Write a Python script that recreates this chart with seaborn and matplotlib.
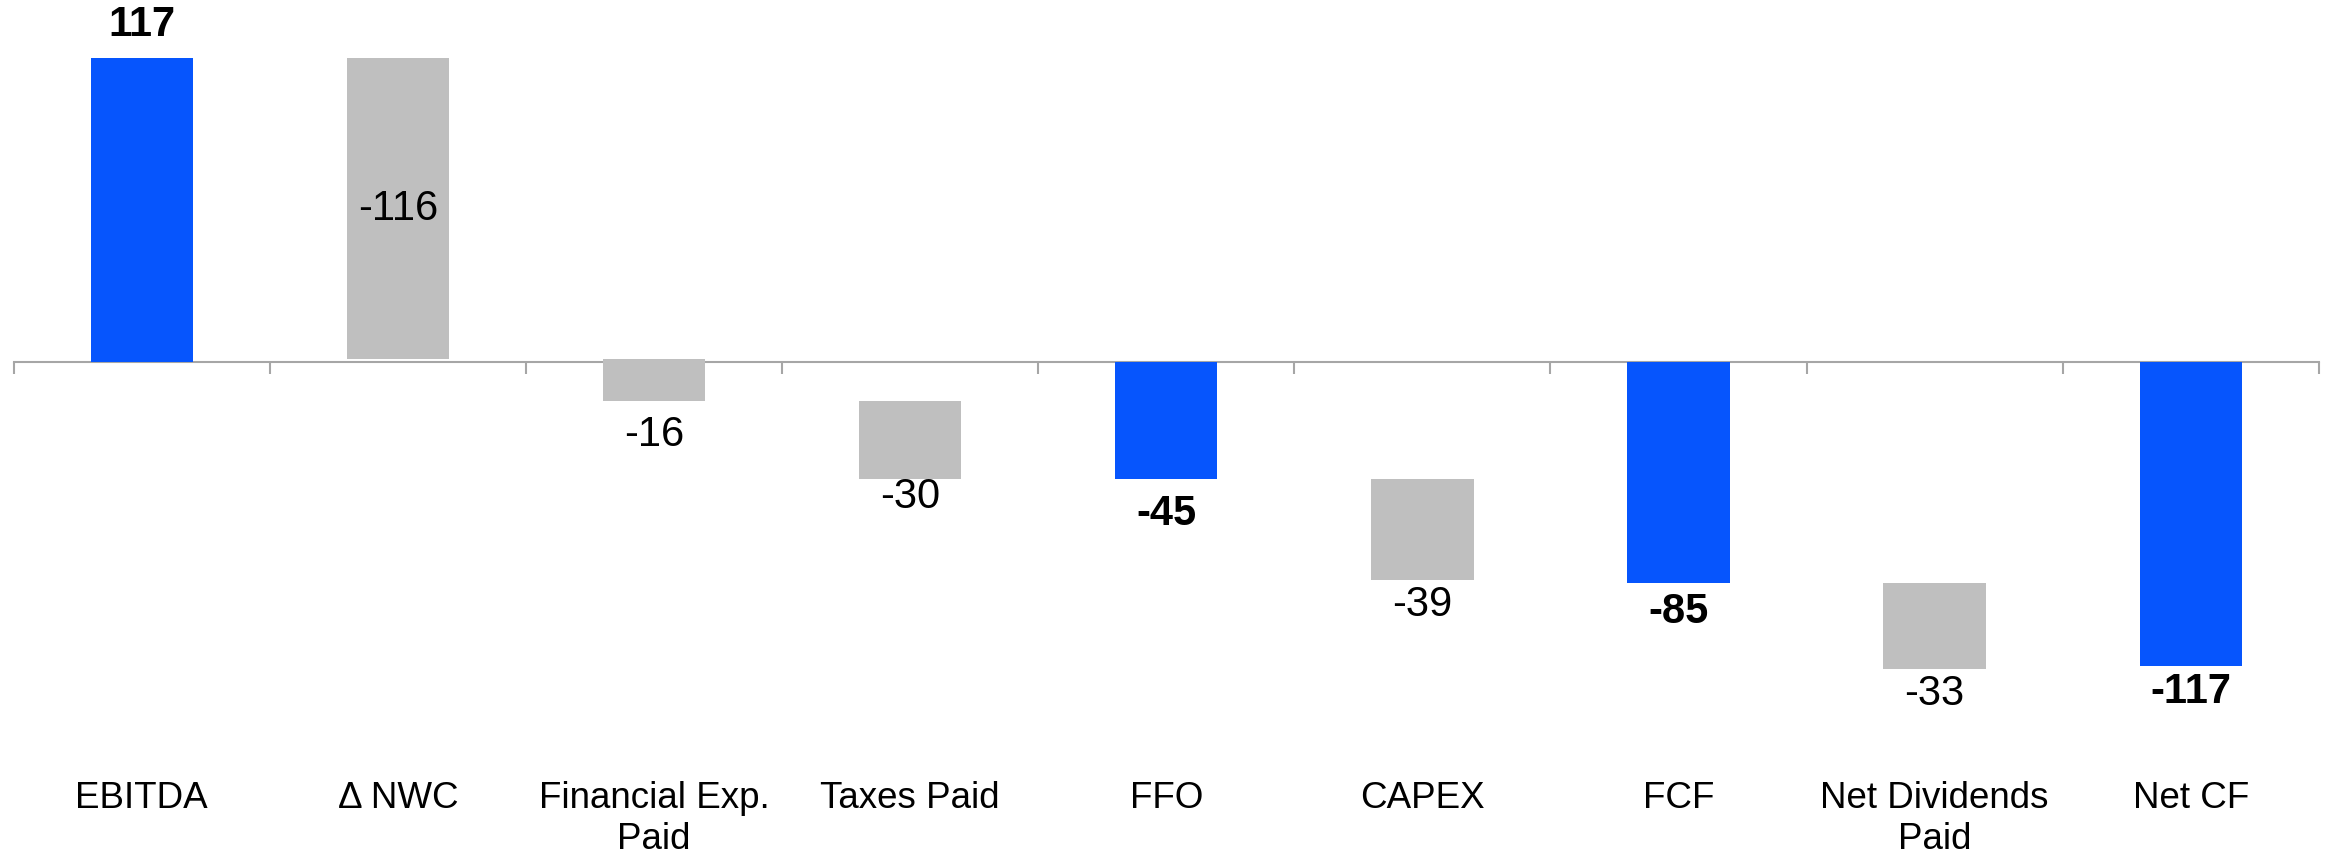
import numpy as np
import pandas as pd
import matplotlib
matplotlib.use("Agg")
import matplotlib.pyplot as plt
import seaborn as sns

# Chart data
categories = ["EBITDA", "Δ NWC", "Financial Exp.\nPaid", "Taxes Paid", "FFO",
              "CAPEX", "FCF", "Net Dividends\nPaid", "Net CF"]
values = [117, -116, -16, -30, -45, -39, -85, -33, -117]
is_total = [True, False, False, False, True, False, True, False, True]

# label distance from bar end, in pixels (as placed in the original)
label_gap_px = [33, 0, 34, 18, 35, 25, 29, 25, 26]

# Waterfall: totals start at zero, steps start where the running total stands
starts = []
running = 0
for v, tot in zip(values, is_total):
    if tot:
        starts.append(0)
        running = v
    else:
        starts.append(running)
        running += v

df = pd.DataFrame({
    "category": categories,
    "value": values,
    "start": starts,
    "kind": ["total" if t else "step" for t in is_total],
})

sns.set_theme(style="white")
plt.rcParams["font.family"] = ["Liberation Sans", "DejaVu Sans"]

BLUE = "#0655FD"
GREY = "#BFBFBF"
AXIS_GREY = "#A6A6A6"

fig = plt.figure(figsize=(23.31, 8.56), dpi=100)
ax = fig.add_axes([0.00588, 0.1822, 0.98889, 0.8178])

sns.barplot(data=df, x="category", y="value", hue="kind",
            palette={"total": BLUE, "step": GREY}, dodge=False,
            width=0.4, saturation=1, legend=False, ax=ax)

# lift every bar onto its waterfall start
for p in ax.patches:
    i = int(round(p.get_x() + p.get_width() / 2))
    p.set_y(df.loc[i, "start"])
    p.set_height(df.loc[i, "value"])
    p.set_edgecolor("none")

ax.set_xlim(-0.5, len(categories) - 0.5)
ax.set_ylim(-130.1, 139.3)

# value labels
for i, row in df.iterrows():
    end = row["start"] + row["value"]
    weight = "bold" if row["kind"] == "total" else "normal"
    txt = f"{row['value']:d}"
    gap = label_gap_px[i] * 0.72
    if row["kind"] == "step" and abs(row["value"]) > 100:
        ax.text(i, row["start"] + row["value"] / 2, txt, ha="center", va="center",
                fontsize=30, weight=weight, color="black")
    else:
        dy = gap if row["value"] > 0 else -gap
        ax.annotate(txt, (i, end), xytext=(0, dy), textcoords="offset points",
                    ha="center", va="center", fontsize=30, weight=weight, color="black")

# zero axis with boundary ticks, category labels far below
for s in ["top", "right", "left"]:
    ax.spines[s].set_visible(False)
ax.spines["bottom"].set_position(("data", 0))
ax.spines["bottom"].set_color(AXIS_GREY)
ax.spines["bottom"].set_linewidth(1.5)
ax.spines["bottom"].set_zorder(0.5)
ax.set_xticks(range(len(categories)))
ax.set_xticklabels(categories)
ax.set_xticks(np.arange(-0.5, len(categories), 1), minor=True)
ax.tick_params(axis="x", which="major", length=0, pad=302, labelsize=26.5, labelcolor="black")
ax.tick_params(axis="x", which="minor", length=8.5, width=1.5, color=AXIS_GREY,
               direction="out", bottom=True)
ax.set_yticks([])
ax.set_xlabel("")
ax.set_ylabel("")

fig.savefig("out.png", dpi=100)
